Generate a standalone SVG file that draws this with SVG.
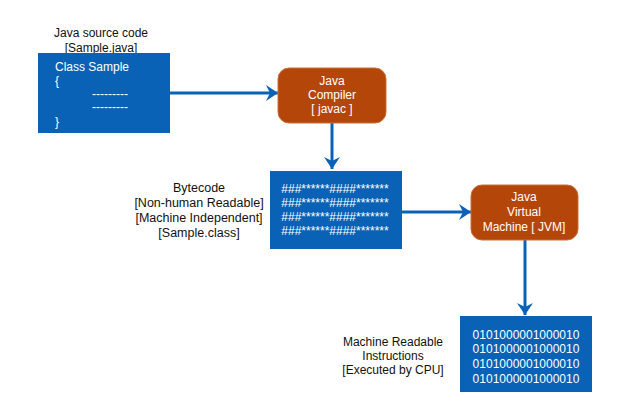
<svg xmlns="http://www.w3.org/2000/svg" width="624" height="403" viewBox="0 0 624 403">
<defs>
<style>
.t{font-family:"Liberation Sans",Arial,sans-serif;font-size:12px;fill:#111;text-anchor:middle}
.tb{font-size:12.5px}
.w{font-family:"Liberation Sans",Arial,sans-serif;font-size:12px;fill:#fff}
.wc{text-anchor:middle}
.blue{fill:#0A62B6}
.orange{fill:#B5460A;stroke:#C8703A;stroke-width:1}
.conn{stroke:#0A62B6;stroke-width:3;fill:none}
</style>
<marker id="arr" markerWidth="14" markerHeight="16" refX="12" refY="8" orient="auto" markerUnits="userSpaceOnUse">
<path d="M0,0 L12,8 L0,16 L4,8 Z" fill="#0A62B6"/>
</marker>
</defs>
<rect width="624" height="403" fill="#fff"/>
<g id="connectors">
<path class="conn" d="M170,93 L278,93" marker-end="url(#arr)"/>
<path class="conn" d="M332,123 L332,169" marker-end="url(#arr)"/>
<path class="conn" d="M402,212 L471,212" marker-end="url(#arr)"/>
<path class="conn" d="M525,240 L525,315" marker-end="url(#arr)"/>
</g>
<g id="source">
<text class="t" x="101" y="37">Java source code</text>
<text class="t" x="101" y="52">[Sample.java]</text>
<rect class="blue" x="38" y="53" width="132" height="80"/>
<text class="w" x="55" y="71">Class Sample</text>
<text class="w" x="55" y="85">{</text>
<text class="w" x="92" y="98">---------</text>
<text class="w" x="92" y="111">---------</text>
<text class="w" x="55" y="126">}</text>
</g>
<g id="compiler">
<rect class="orange" x="278" y="68" width="108" height="55" rx="11"/>
<text class="w wc" x="332" y="85">Java</text>
<text class="w wc" x="332" y="99">Compiler</text>
<text class="w wc" x="332" y="113">[ javac ]</text>
</g>
<g id="bytecode">
<text class="t tb" x="199" y="192">Bytecode</text>
<text class="t tb" x="199" y="207">[Non-human Readable]</text>
<text class="t tb" x="199" y="222">[Machine Independent]</text>
<text class="t tb" x="199" y="237">[Sample.class]</text>
<rect class="blue" x="270" y="171" width="132" height="78"/>
<text class="w wc" x="335" y="193" font-size="12.5">###******####*******</text>
<text class="w wc" x="335" y="207" font-size="12.5">###******####*******</text>
<text class="w wc" x="335" y="221" font-size="12.5">###******####*******</text>
<text class="w wc" x="335" y="235" font-size="12.5">###******####*******</text>
</g>
<g id="jvm">
<rect class="orange" x="471" y="185" width="107" height="55" rx="11"/>
<text class="w wc" x="524" y="201">Java</text>
<text class="w wc" x="524" y="216">Virtual</text>
<text class="w wc" x="524" y="231">Machine [ JVM]</text>
</g>
<g id="machine">
<text class="t" x="393" y="346">Machine Readable</text>
<text class="t" x="393" y="360">Instructions</text>
<text class="t" x="393" y="374">[Executed by CPU]</text>
<rect class="blue" x="460" y="316" width="132" height="76"/>
<text class="w wc" x="526" y="339">0101000001000010</text>
<text class="w wc" x="526" y="353">0101000001000010</text>
<text class="w wc" x="526" y="368">0101000001000010</text>
<text class="w wc" x="526" y="383">0101000001000010</text>
</g>
</svg>
